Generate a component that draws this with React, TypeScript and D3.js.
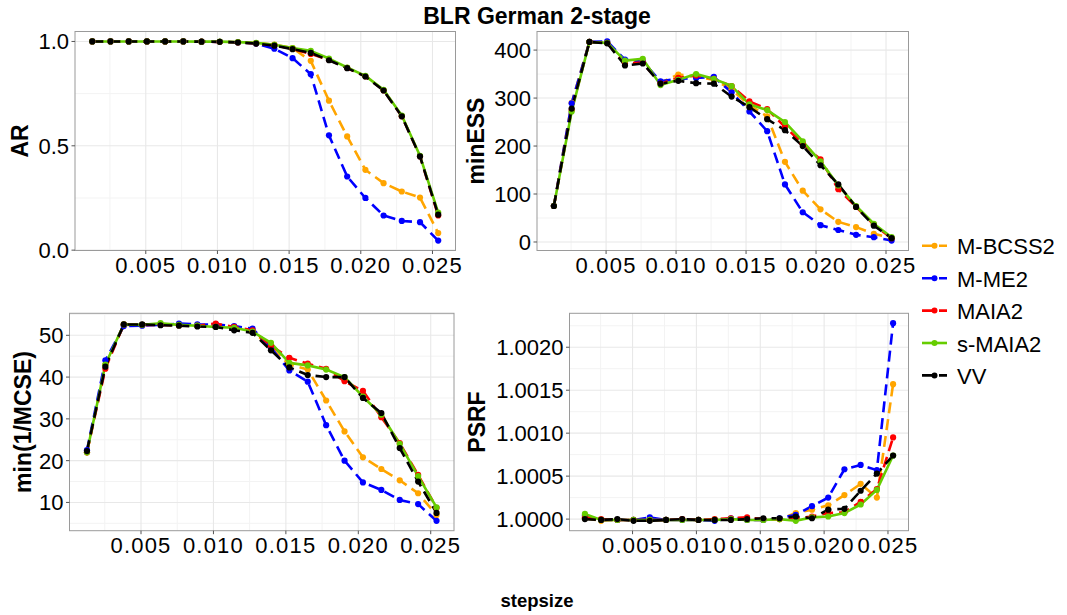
import React from "react";
import * as d3 from "d3";

// Step sizes shared by every panel
const STEPSIZE = [
  0.00127, 0.00254, 0.00381, 0.00508, 0.00635, 0.00762, 0.00889, 0.01016, 0.01143, 0.0127,
  0.01397, 0.01524, 0.01651, 0.01778, 0.01905, 0.02032, 0.02159, 0.02286, 0.02413, 0.0254,
];

const SERIES = ["M-BCSS2", "M-ME2", "MAIA2", "s-MAIA2", "VV"];
const SERIES_COLORS = ["#FFA500", "#0000FF", "#FF0000", "#66CD00", "#000000"];
const SERIES_DASHED = [true, true, true, false, true];

// Acceptance rate
const AR_MBCSS2 = [1.0, 1.0, 1.0, 1.0, 1.0, 1.0, 0.999, 0.998, 0.996, 0.992, 0.985, 0.968, 0.907, 0.716, 0.545, 0.385, 0.321, 0.281, 0.252, 0.082];
const AR_MME2 = [1.0, 1.0, 1.0, 1.0, 1.0, 1.0, 0.999, 0.998, 0.996, 0.99, 0.965, 0.92, 0.843, 0.55, 0.353, 0.25, 0.166, 0.14, 0.134, 0.046];
const AR_MAIA2 = [1.0, 1.0, 1.0, 1.0, 1.0, 1.0, 0.999, 0.998, 0.996, 0.991, 0.982, 0.965, 0.94, 0.912, 0.873, 0.833, 0.766, 0.642, 0.45, 0.166];
const AR_SMAIA2 = [1.0, 1.0, 1.0, 1.0, 1.0, 1.0, 0.999, 0.999, 0.997, 0.993, 0.984, 0.968, 0.955, 0.918, 0.875, 0.835, 0.768, 0.645, 0.452, 0.18];
const AR_VV = [1.0, 1.0, 1.0, 1.0, 1.0, 1.0, 0.999, 0.998, 0.995, 0.99, 0.98, 0.963, 0.945, 0.91, 0.872, 0.832, 0.765, 0.641, 0.449, 0.17];

// Minimum effective sample size
const ESS_MBCSS2 = [75, 290, 417, 415, 375, 378, 332, 349, 345, 338, 318, 285, 262, 167, 107, 68, 42, 31, 17, 8];
const ESS_MME2 = [75, 289, 417, 418, 380, 376, 335, 340, 342, 344, 312, 272, 231, 120, 62, 35, 25, 15, 10, 3];
const ESS_MAIA2 = [75, 275, 417, 415, 372, 374, 330, 342, 347, 340, 325, 293, 277, 240, 205, 172, 110, 73, 36, 8];
const ESS_SMAIA2 = [75, 272, 417, 415, 378, 382, 327, 338, 350, 340, 325, 287, 275, 250, 210, 168, 118, 75, 38, 10];
const ESS_VV = [75, 278, 417, 414, 368, 372, 330, 336, 331, 330, 303, 281, 256, 233, 200, 160, 120, 73, 34, 8];

// min(1/MCSE)
const MCSE_MBCSS2 = [22.0, 43.0, 52.5, 52.5, 52.6, 52.4, 52.3, 52.2, 52.0, 51.0, 47.0, 43.0, 41.8, 34.4, 27.0, 20.8, 18.0, 15.3, 12.2, 7.0];
const MCSE_MME2 = [22.5, 44.0, 52.2, 52.3, 52.5, 52.8, 52.6, 52.6, 52.2, 51.6, 47.0, 41.6, 38.9, 28.5, 20.0, 14.8, 13.0, 10.6, 9.6, 5.6];
const MCSE_MAIA2 = [22.0, 42.0, 52.6, 52.5, 52.5, 52.4, 52.3, 52.8, 52.0, 51.2, 47.5, 44.6, 43.2, 42.0, 39.0, 36.7, 30.4, 24.2, 16.6, 8.7];
const MCSE_SMAIA2 = [22.0, 43.0, 52.6, 52.5, 52.9, 52.5, 52.3, 52.0, 51.8, 50.9, 48.2, 43.4, 42.8, 41.8, 40.0, 35.3, 31.0, 24.0, 16.3, 8.8];
const MCSE_VV = [22.3, 42.5, 52.6, 52.6, 52.4, 52.3, 52.1, 52.0, 51.2, 50.6, 46.4, 42.3, 40.5, 40.0, 40.0, 35.0, 31.4, 23.0, 15.0, 7.5];

// Potential scale reduction factor
const PSRF_MBCSS2 = [1.00001, 0.99998, 0.99999, 0.99999, 0.99999, 0.99999, 0.99999, 0.99999, 0.99999, 1.0, 0.99999, 0.99999, 1.0, 1.00007, 1.00011, 1.00016, 1.00028, 1.00041, 1.00025, 1.00157];
const PSRF_MME2 = [1.00004, 0.99999, 0.99999, 0.99999, 1.00002, 0.99999, 0.99999, 0.99999, 0.99998, 1.00001, 0.99999, 0.99999, 1.00001, 1.00005, 1.00015, 1.00025, 1.00058, 1.00063, 1.00057, 1.00228];
const PSRF_MAIA2 = [1.00002, 1.0, 0.99999, 0.99999, 0.99999, 0.99999, 1.0, 0.99999, 1.0, 1.00001, 1.00002, 1.0, 1.0, 1.00001, 1.00003, 1.00007, 1.00008, 1.0002, 1.00035, 1.00095];
const PSRF_SMAIA2 = [1.00006, 0.99999, 0.99999, 0.99999, 0.99999, 0.99999, 0.99999, 0.99999, 0.99999, 1.0, 0.99999, 0.99999, 1.0, 0.99998, 1.00002, 1.00003, 1.00007, 1.00017, 1.00034, 1.00074];
const PSRF_VV = [1.0, 0.99999, 1.0, 0.99998, 0.99998, 0.99999, 1.0, 0.99999, 0.99999, 0.99999, 1.0, 1.00001, 1.00001, 1.00003, 1.00001, 1.00011, 1.00012, 1.00033, 1.00053, 1.00074];

const X_TICKS = [0.005, 0.01, 0.015, 0.02, 0.025];
const AR_TICKS = [0.0, 0.5, 1.0];
const ESS_TICKS = [0, 100, 200, 300, 400];
const MCSE_TICKS = [10, 20, 30, 40, 50];
const PSRF_TICKS = [1.0, 1.0005, 1.001, 1.0015, 1.002];

const FONT = "'Liberation Sans', Arial, Helvetica, sans-serif";
const W = 1067;
const H = 615;

type Panel = {
  title: string;
  values: number[][];
  ticks: number[];
  fmt: (v: number) => string;
  box: { left: number; right: number; top: number; bottom: number };
  titleX: number;
};

const PANELS: Panel[] = [
  {
    title: "AR",
    values: [AR_MBCSS2, AR_MME2, AR_MAIA2, AR_SMAIA2, AR_VV],
    ticks: AR_TICKS,
    fmt: d3.format(".1f"),
    box: { left: 75, right: 455.5, top: 31.5, bottom: 250.5 },
    titleX: 28,
  },
  {
    title: "minESS",
    values: [ESS_MBCSS2, ESS_MME2, ESS_MAIA2, ESS_SMAIA2, ESS_VV],
    ticks: ESS_TICKS,
    fmt: d3.format("d"),
    box: { left: 537, right: 908.5, top: 31.5, bottom: 250.5 },
    titleX: 484,
  },
  {
    title: "min(1/MCSE)",
    values: [MCSE_MBCSS2, MCSE_MME2, MCSE_MAIA2, MCSE_SMAIA2, MCSE_VV],
    ticks: MCSE_TICKS,
    fmt: d3.format("d"),
    box: { left: 69.5, right: 454, top: 313.3, bottom: 530.7 },
    titleX: 31,
  },
  {
    title: "PSRF",
    values: [PSRF_MBCSS2, PSRF_MME2, PSRF_MAIA2, PSRF_SMAIA2, PSRF_VV],
    ticks: PSRF_TICKS,
    fmt: d3.format(".4f"),
    box: { left: 569.5, right: 908.5, top: 313.3, bottom: 530.7 },
    titleX: 485,
  },
];

// ggplot-like 5% expansion of a continuous range
function expanded(lo: number, hi: number): [number, number] {
  const pad = (hi - lo) * 0.05;
  return [lo - pad, hi + pad];
}

// Minor breaks halfway between major breaks, one step beyond either end
function minorBreaks(major: number[], domain: [number, number]) {
  const step = major[1] - major[0];
  const out: number[] = [];
  for (let v = major[0] - step / 2; v <= major[major.length - 1] + step / 2 + 1e-12; v += step) {
    if (v >= domain[0] && v <= domain[1]) out.push(v);
  }
  return out;
}

function PanelView({ p }: { p: Panel }) {
  const { box } = p;
  const xDom = expanded(d3.min(STEPSIZE)!, d3.max(STEPSIZE)!);
  const all = p.values.flat();
  const yDom = expanded(d3.min(all)!, d3.max(all)!);
  const x = d3.scaleLinear().domain(xDom).range([box.left, box.right]);
  const y = d3.scaleLinear().domain(yDom).range([box.bottom, box.top]);
  const line = d3
    .line<number>()
    .x((_, i) => x(STEPSIZE[i]))
    .y((d) => y(d));
  const xMinor = minorBreaks(X_TICKS, xDom);
  const yMinor = minorBreaks(p.ticks, yDom);
  const clipId = "clip-" + p.title.replace(/[^a-zA-Z]/g, "");
  const cy = (box.top + box.bottom) / 2;

  return (
    <g>
      <defs>
        <clipPath id={clipId}>
          <rect x={box.left} y={box.top} width={box.right - box.left} height={box.bottom - box.top} />
        </clipPath>
      </defs>
      <rect x={box.left} y={box.top} width={box.right - box.left} height={box.bottom - box.top} fill="#fff" />
      {xMinor.map((v) => (
        <line key={"xm" + v} x1={x(v)} x2={x(v)} y1={box.top} y2={box.bottom} stroke="#F3F3F3" strokeWidth={1} />
      ))}
      {yMinor.map((v) => (
        <line key={"ym" + v} x1={box.left} x2={box.right} y1={y(v)} y2={y(v)} stroke="#F3F3F3" strokeWidth={1} />
      ))}
      {X_TICKS.map((v) => (
        <line key={"xg" + v} x1={x(v)} x2={x(v)} y1={box.top} y2={box.bottom} stroke="#E8E8E8" strokeWidth={1.1} />
      ))}
      {p.ticks.map((v) => (
        <line key={"yg" + v} x1={box.left} x2={box.right} y1={y(v)} y2={y(v)} stroke="#E8E8E8" strokeWidth={1.1} />
      ))}
      <g clipPath={`url(#${clipId})`}>
        {p.values.map((vals, s) => (
          <path
            key={"l" + s}
            d={line(vals) || ""}
            fill="none"
            stroke={SERIES_COLORS[s]}
            strokeWidth={2.6}
            strokeDasharray={SERIES_DASHED[s] ? "11 6" : undefined}
            strokeLinejoin="round"
          />
        ))}
        {p.values.map((vals, s) =>
          vals.map((v, i) => (
            <circle key={"p" + s + "-" + i} cx={x(STEPSIZE[i])} cy={y(v)} r={3.1} fill={SERIES_COLORS[s]} />
          ))
        )}
      </g>
      <rect
        x={box.left}
        y={box.top}
        width={box.right - box.left}
        height={box.bottom - box.top}
        fill="none"
        stroke="#9A9A9A"
        strokeWidth={1}
      />
      {X_TICKS.map((v) => (
        <g key={"xt" + v}>
          <line x1={x(v)} x2={x(v)} y1={box.bottom} y2={box.bottom + 3.5} stroke="#555" strokeWidth={1} />
          <text
            x={x(v)}
            y={box.bottom + 22}
            textAnchor="middle"
            fontFamily={FONT}
            fontSize={22}
            letterSpacing={1.2}
            fill="#000"
          >
            {d3.format(".3f")(v)}
          </text>
        </g>
      ))}
      {p.ticks.map((v) => (
        <g key={"yt" + v}>
          <line x1={box.left - 3.5} x2={box.left} y1={y(v)} y2={y(v)} stroke="#555" strokeWidth={1} />
          <text
            x={box.left - 6}
            y={y(v)}
            dy="0.36em"
            textAnchor="end"
            fontFamily={FONT}
            fontSize={22}
            fill="#000"
          >
            {p.fmt(v)}
          </text>
        </g>
      ))}
      <text
        transform={`translate(${p.titleX},${cy}) rotate(-90)`}
        textAnchor="middle"
        fontFamily={FONT}
        fontWeight="bold"
        fontSize={23}
        fill="#000"
      >
        {p.title}
      </text>
    </g>
  );
}

function Legend() {
  const left = 922;
  const right = 947;
  const textX = 957;
  const baseline0 = 254.3;
  const gap = 32.4;
  return (
    <g>
      {SERIES.map((name, i) => {
        const by = baseline0 + i * gap;
        const ky = by - 8.5;
        return (
          <g key={name}>
            <line
              x1={left}
              x2={right}
              y1={ky}
              y2={ky}
              stroke={SERIES_COLORS[i]}
              strokeWidth={2.6}
              strokeDasharray={SERIES_DASHED[i] ? "11 6" : undefined}
            />
            <circle cx={(left + right) / 2} cy={ky} r={3} fill={SERIES_COLORS[i]} />
            <text x={textX} y={by} fontFamily={FONT} fontSize={22} fill="#000">
              {name}
            </text>
          </g>
        );
      })}
    </g>
  );
}

export default function App() {
  return (
    <svg
      width={W}
      height={H}
      viewBox={`0 0 ${W} ${H}`}
      style={{ position: "absolute", left: 0, top: 0, background: "#fff" }}
    >
      <rect x={0} y={0} width={W} height={H} fill="#fff" />
      <text x={537} y={24} textAnchor="middle" fontFamily={FONT} fontWeight="bold" fontSize={23} fill="#000">
        BLR German 2-stage
      </text>
      {PANELS.map((p) => (
        <PanelView key={p.title} p={p} />
      ))}
      <Legend />
      <text x={537} y={607} textAnchor="middle" fontFamily={FONT} fontWeight="bold" fontSize={18.5} fill="#000">
        stepsize
      </text>
    </svg>
  );
}
